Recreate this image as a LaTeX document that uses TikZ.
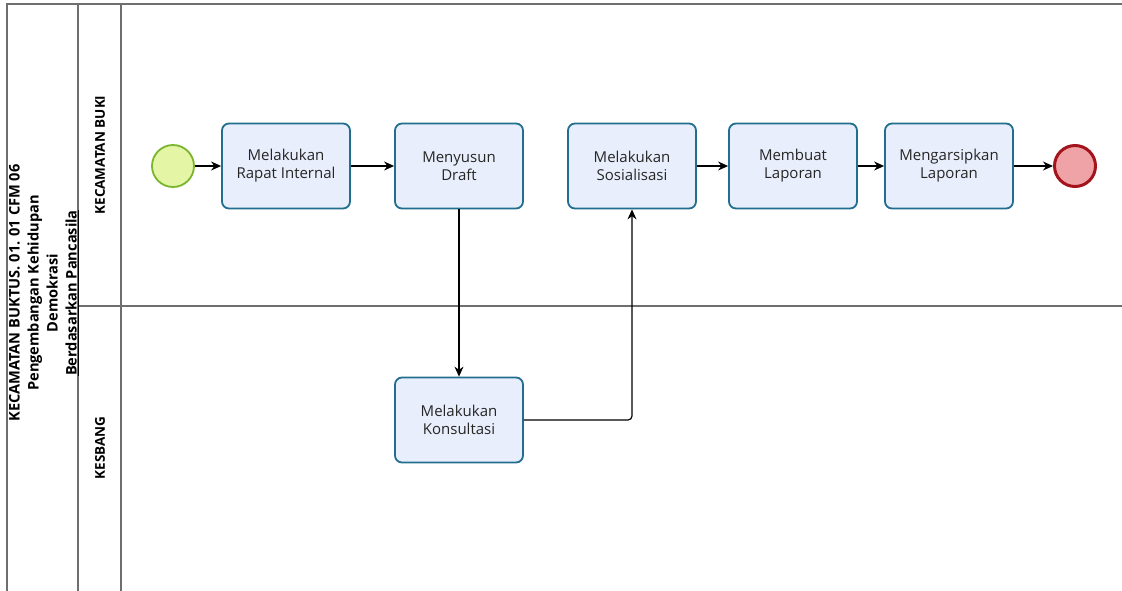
\documentclass[tikz,border=0pt]{standalone}
\usepackage{fontspec}
\setmainfont{Open Sans}
\usetikzlibrary{arrows.meta}
\definecolor{taskfill}{HTML}{E8EEFB}
\definecolor{taskline}{HTML}{226E8E}
\definecolor{startfill}{HTML}{E4F5A6}
\definecolor{startline}{HTML}{7AB52E}
\definecolor{endfill}{HTML}{F0A3A6}
\definecolor{endline}{HTML}{A3141C}
\definecolor{poolline}{HTML}{6E6E6E}
\begin{document}
\begin{tikzpicture}[
x=1pt,y=-1pt,
task/.style={draw=taskline,fill=taskfill,line width=1.8pt,rounded corners=7pt,
  minimum width=128pt,minimum height=85pt,align=center,font=\fontsize{15}{18}\selectfont,
  text=black!85},
startevent/.style={circle,draw=startline,fill=startfill,line width=1.8pt,minimum size=42pt},
endevent/.style={circle,draw=endline,fill=endfill,line width=3pt,minimum size=41pt},
lanelabel/.style={rotate=90,font=\bfseries\fontsize{13.5}{17}\selectfont},
flow/.style={line width=1.2pt,-{Stealth[length=10pt,width=9pt]}},
pool/.style={draw=poolline,line width=1.3pt}
]
\useasboundingbox (0,0) rectangle (1122,590);
% pool and lanes
\draw[pool] (1122,4) -- (7,4) -- (7,592);
\draw[pool] (78,4) -- (78,592);
\draw[pool] (121,4) -- (121,592);
\draw[pool] (78,306) -- (1122,306);
\node[lanelabel,align=center,font=\bfseries\fontsize{14.6}{19}\selectfont] (title) at (44,293)
  {KECAMATAN BUKTUS. 01. 01 CFM 06\\Pengembangan Kehidupan\\Demokrasi\\\underline{Berdasarkan Pancasila}};
\node[lanelabel] (lanebuki) at (100,155) {KECAMATAN BUKI};
\node[lanelabel] (lanekesbang) at (100,448) {KESBANG};
% events and tasks
\node[startevent] (start) at (173,166) {};
\node[task] (rapat) at (286,166) {Melakukan\\Rapat Internal};
\node[task] (draft) at (459,166) {Menyusun\\Draft};
\node[task] (sosial) at (632,166) {Melakukan\\Sosialisasi};
\node[task] (laporan) at (793,166) {Membuat\\Laporan};
\node[task] (arsip) at (949,166) {Mengarsipkan\\Laporan};
\node[endevent] (finish) at (1075,166) {};
\node[task] (konsul) at (459,420) {Melakukan\\Konsultasi};
% flows
\draw[flow] (start) -- (rapat);
\draw[flow] (rapat) -- (draft);
\draw[flow] (draft) -- (konsul);
\draw[flow,rounded corners=4pt] (konsul.east) -| (sosial.south);
\draw[flow] (sosial) -- (laporan);
\draw[flow] (laporan) -- (arsip);
\draw[flow] (arsip) -- (finish);
\end{tikzpicture}
\end{document}
